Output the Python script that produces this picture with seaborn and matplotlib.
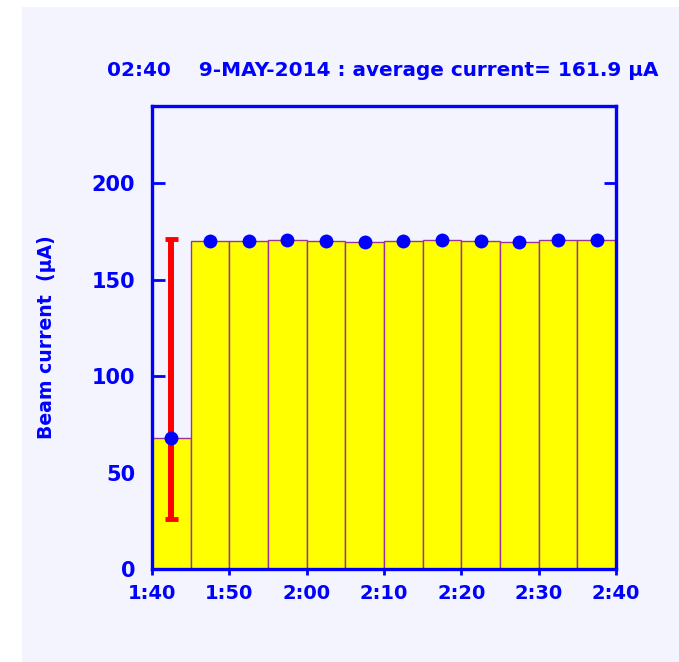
import matplotlib
matplotlib.use("Agg")
import matplotlib.pyplot as plt
import seaborn as sns
import numpy as np
import pandas as pd
from matplotlib.patches import Rectangle

sns.set_theme(style="white")
plt.rcParams['font.family'] = ['DejaVu Sans']

# Data (minutes after 1:40)
bin_centers = [2.5, 7.5, 12.5, 17.5, 22.5, 27.5, 32.5, 37.5, 42.5, 47.5, 52.5, 57.5]
bin_edges = [0, 5, 10, 15, 20, 25, 30, 35, 40, 45, 50, 55, 60]
currents = [68.0, 169.9, 169.8, 170.7, 169.9, 169.7, 170.0, 170.4, 169.8, 169.7, 170.5, 170.4]
err_center = [2.5]
err_low = [26.0]
err_high = [171.0]
tick_positions = [0, 10, 20, 30, 40, 50, 60]
tick_labels = ["1:40", "1:50", "2:00", "2:10", "2:20", "2:30", "2:40"]
y_ticks = [0, 50, 100, 150, 200]

BLUE = "#0000ff"
BG = "#f4f4fe"

df = pd.DataFrame({"t": bin_centers, "current": currents})

fig = plt.figure(figsize=(6.79, 6.62), dpi=100, facecolor="white")
fig.patches.append(Rectangle((22/679, 0), 1 - 22/679, 1 - 7/662, transform=fig.transFigure,
                             facecolor=BG, edgecolor="none", zorder=-10))
ax = fig.add_axes([152/679, 1 - 569/662, 464/679, 463/662])
ax.set_facecolor(BG)

sns.histplot(data=df, x="t", weights="current", bins=bin_edges, ax=ax,
             color="#ffff00", edgecolor="#993399", linewidth=1.0, alpha=1.0, zorder=2)

# error bar
ax.vlines(err_center, err_low, err_high, color="#ff0000", linewidth=4.3, zorder=3)
ax.hlines(err_low + err_high, [c - 0.8 for c in err_center * 2], [c + 0.8 for c in err_center * 2],
          color="#ff0000", linewidth=3.5, zorder=3)

sns.scatterplot(data=df, x="t", y="current", ax=ax, color=BLUE, s=100,
                edgecolor=BLUE, linewidth=0, zorder=4)

ax.set_xlim(0, 60)
ax.set_ylim(0, 240)
ax.set_xticks(tick_positions)
ax.set_xticklabels(tick_labels)
ax.set_yticks(y_ticks)
ax.set_xlabel("")
ax.set_ylabel("Beam current  (\u03bcA)", color=BLUE, fontsize=13.6, fontweight="bold")
ax.yaxis.set_label_coords(-0.207, 0.5)

for s in ax.spines.values():
    s.set_color(BLUE)
    s.set_linewidth(2.4)
    s.set_visible(True)
    s.set_zorder(5)

ax.tick_params(axis="y", which="both", direction="in", length=9, width=2, color=BLUE,
               labelcolor=BLUE, labelsize=15, pad=12, left=True, right=True)
ax.tick_params(axis="x", which="both", direction="inout", length=9, width=2, color=BLUE,
               labelcolor=BLUE, labelsize=14, pad=6, bottom=True, top=False)
for lab in ax.get_xticklabels() + ax.get_yticklabels():
    lab.set_fontweight("bold")

fig.text(107/679, 1 - 70/662, "02:40    9-MAY-2014 : average current= 161.9 \u03bcA",
         color=BLUE, fontsize=14.4, fontweight="bold", ha="left", va="center")

fig.savefig("out.png", dpi=100, facecolor="white")
